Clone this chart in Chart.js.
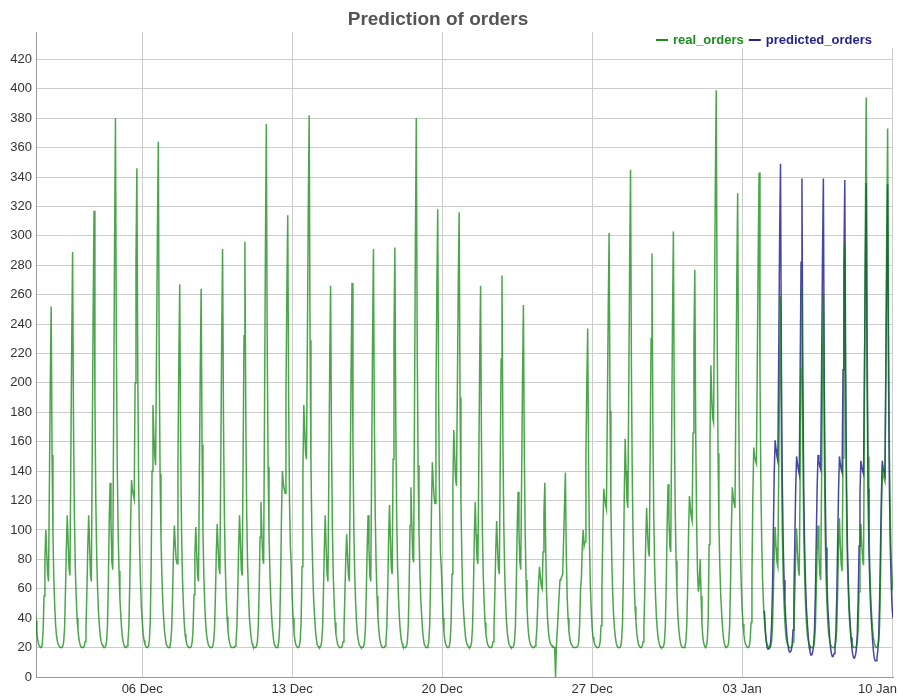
<!DOCTYPE html>
<html>
<head>
<meta charset="utf-8">
<title>Prediction of orders</title>
<script src="https://cdn.jsdelivr.net/npm/chart.js@4.4.0/dist/chart.umd.min.js"></script>
<style>
  html, body { margin: 0; padding: 0; background: #fff; }
</style>
</head>
<body>
<canvas id="ordersChart" width="900" height="697"></canvas>
<script>
// Hourly orders, one row per day (hour 0 = 01 Dec 00:00)
const realOrders = [
  [46, 38, 30, 25, 22, 21, 20, 20, 22, 32, 55, 80, 100, 84, 70, 65, 130, 200, 252, 151, 96, 66, 48, 35], // 01 Dec
  [28, 24, 22, 21, 20, 20, 20, 21, 24, 33, 58, 88, 110, 92, 74, 69, 146, 227, 289, 173, 110, 75, 55, 40],
  [32, 26, 23, 21, 20, 20, 20, 21, 24, 33, 58, 88, 110, 90, 70, 65, 153, 246, 317, 190, 120, 82, 60, 44],
  [35, 28, 24, 22, 21, 20, 20, 21, 24, 34, 62, 105, 132, 105, 78, 73, 180, 294, 380, 228, 144, 99, 72, 53],
  [42, 32, 26, 23, 21, 20, 20, 21, 24, 34, 62, 105, 134, 127, 124, 121, 200, 283, 346, 208, 131, 90, 66, 48],
  [38, 30, 25, 22, 21, 20, 20, 21, 25, 38, 75, 140, 185, 165, 150, 144, 221, 302, 364, 218, 138, 95, 69, 51], // 06 Dec
  [40, 31, 26, 22, 21, 20, 20, 21, 24, 33, 56, 85, 103, 90, 80, 77, 144, 214, 267, 160, 101, 69, 51, 37],
  [29, 25, 22, 21, 20, 20, 20, 21, 24, 33, 56, 84, 102, 84, 69, 65, 135, 208, 264, 158, 100, 69, 50, 37],
  [29, 25, 22, 21, 20, 20, 20, 21, 24, 33, 56, 85, 104, 88, 74, 70, 147, 229, 291, 175, 111, 76, 55, 41],
  [32, 26, 23, 21, 20, 20, 20, 20, 21, 24, 33, 58, 88, 110, 92, 73, 69, 148, 232, 296, 178, 112, 77, 56],
  [41, 33, 27, 23, 21, 20, 20, 20, 21, 24, 34, 60, 95, 119, 98, 81, 77, 182, 292, 376, 226, 143, 98, 71],
  [53, 41, 32, 26, 22, 21, 20, 20, 21, 24, 35, 65, 110, 140, 132, 128, 125, 191, 261, 314, 188, 119, 88, 75],
  [54, 40, 30, 25, 22, 21, 20, 20, 21, 25, 38, 75, 140, 185, 168, 152, 148, 230, 316, 382, 229, 145, 99, 73], // 13 Dec
  [53, 42, 32, 26, 22, 21, 20, 20, 21, 24, 33, 58, 88, 110, 88, 70, 65, 135, 210, 266, 160, 101, 69, 51],
  [37, 29, 25, 22, 21, 20, 20, 20, 21, 24, 33, 56, 80, 97, 82, 69, 65, 136, 211, 268, 161, 102, 70, 51],
  [38, 29, 25, 22, 21, 20, 20, 20, 21, 24, 33, 58, 88, 110, 88, 69, 65, 144, 228, 291, 175, 111, 76, 55],
  [41, 32, 26, 23, 21, 20, 20, 20, 21, 24, 34, 60, 94, 117, 94, 74, 70, 148, 230, 292, 175, 111, 76, 55],
  [41, 32, 26, 23, 21, 20, 20, 20, 21, 24, 35, 62, 103, 129, 104, 82, 78, 184, 295, 380, 228, 144, 99, 72],
  [53, 42, 32, 26, 22, 21, 20, 20, 21, 24, 35, 65, 115, 146, 132, 122, 118, 188, 262, 318, 191, 121, 85, 74],
  [58, 40, 30, 25, 22, 21, 20, 20, 21, 25, 37, 70, 130, 168, 150, 135, 130, 195, 265, 316, 190, 120, 82, 56], // 20 Dec
  [44, 35, 28, 24, 22, 21, 20, 20, 21, 24, 34, 60, 95, 119, 97, 81, 77, 143, 213, 266, 160, 101, 69, 51],
  [37, 29, 25, 22, 21, 20, 20, 20, 21, 24, 33, 57, 85, 106, 88, 74, 70, 141, 216, 273, 164, 104, 71, 52],
  [38, 30, 25, 22, 21, 20, 20, 20, 21, 24, 34, 62, 100, 126, 100, 78, 73, 136, 203, 253, 152, 96, 66, 48],
  [35, 28, 24, 22, 21, 20, 20, 20, 21, 24, 32, 48, 65, 75, 68, 62, 60, 85, 112, 132, 85, 56, 40, 31],
  [26, 23, 22, 21, 21, 20, 20, 0, 22, 32, 44, 56, 66, 67, 68, 70, 93, 116, 139, 84, 55, 40, 31, 26],
  [23, 22, 21, 20, 20, 20, 20, 20, 21, 24, 36, 60, 68, 90, 100, 89, 92, 150, 200, 237, 142, 90, 62, 45],
  [33, 27, 24, 22, 21, 20, 20, 20, 21, 24, 35, 62, 100, 128, 122, 117, 114, 180, 249, 302, 181, 115, 79, 57], // 27 Dec
  [42, 33, 27, 23, 21, 20, 20, 20, 21, 25, 37, 70, 125, 162, 140, 120, 115, 196, 281, 345, 207, 131, 90, 66],
  [48, 38, 30, 25, 22, 21, 20, 20, 21, 24, 34, 60, 92, 115, 98, 86, 82, 154, 230, 288, 173, 109, 75, 55],
  [40, 32, 26, 23, 21, 20, 20, 20, 21, 24, 35, 63, 104, 131, 108, 89, 85, 161, 242, 303, 182, 115, 79, 58],
  [42, 33, 27, 23, 21, 20, 20, 20, 21, 24, 35, 62, 98, 123, 115, 109, 106, 166, 229, 277, 166, 105, 72, 58],
  [64, 80, 55, 36, 27, 23, 21, 20, 21, 25, 40, 90, 160, 212, 190, 176, 173, 254, 336, 399, 239, 152, 104, 76], // 01 Jan
  [56, 44, 34, 27, 23, 21, 20, 20, 21, 24, 35, 63, 102, 129, 122, 118, 115, 190, 269, 329, 197, 125, 86, 63],
  [46, 36, 29, 24, 22, 21, 20, 20, 21, 25, 37, 70, 122, 156, 150, 147, 145, 214, 288, 343, 206, 130, 89, 65], // 03 Jan
  [48, 38, 30, 25, 22, 21, 20, 20, 21, 24, 34, 58, 85, 102, 88, 78, 75, 140, 206, 259, 155, 98, 67, 49],
  [36, 28, 24, 22, 21, 20, 20, 20, 21, 24, 33, 57, 84, 101, 85, 73, 69, 139, 210, 265, 159, 101, 69, 50],
  [37, 29, 25, 22, 21, 20, 20, 20, 21, 24, 33, 57, 85, 103, 85, 70, 66, 134, 206, 261, 157, 99, 68, 50],
  [37, 29, 25, 22, 21, 20, 20, 20, 21, 24, 33, 58, 88, 108, 90, 76, 72, 149, 231, 293, 176, 111, 76, 56],
  [41, 32, 26, 23, 21, 20, 20, 20, 21, 24, 33, 58, 86, 104, 90, 80, 76, 187, 305, 394, 236, 150, 102, 75],
  [55, 43, 33, 27, 23, 21, 20, 20, 21, 24, 35, 65, 110, 140, 137, 135, 133, 217, 306, 373, 230, 150, 105, 80],
  [66, 59] // 10 Jan
];

// prediction starts 04 Jan 00:00
const predictedStartHour = 816;
const predictedOrders = [
  [45, 44, 32, 24, 20, 19, 19, 20, 24, 35, 60, 100, 140, 161, 155, 150, 147, 220, 300, 349, 209, 133, 91, 66],
  [49, 38, 29, 23, 19, 17, 17, 18, 22, 32, 55, 92, 128, 150, 145, 141, 138, 208, 282, 339, 203, 129, 88, 64],
  [47, 37, 28, 21, 17, 15, 15, 17, 21, 31, 55, 92, 128, 151, 147, 143, 141, 210, 284, 339, 203, 129, 88, 64],
  [47, 37, 27, 20, 16, 14, 14, 16, 20, 30, 54, 91, 127, 150, 145, 141, 139, 209, 282, 338, 203, 128, 88, 64],
  [47, 37, 27, 19, 15, 13, 13, 15, 19, 29, 53, 89, 125, 147, 143, 140, 138, 207, 280, 336, 202, 128, 87, 64],
  [47, 36, 26, 18, 13, 11, 11, 13, 18, 28, 52, 88, 124, 147, 142, 139, 137, 206, 278, 335, 201, 127, 87, 63],
  [47, 40]
];

const tickHours = [120, 288, 456, 624, 792, 960];
const tickLabels = ["06 Dec", "13 Dec", "20 Dec", "27 Dec", "03 Jan", "10 Jan"];

const FONT = '"Liberation Sans", Arial, Helvetica, sans-serif';

const realPoints = realOrders.flat().map((y, i) => ({ x: i, y: y }));
const predictedPoints = predictedOrders.flat().map((y, i) => ({ x: predictedStartHour + i, y: y }));

// title, legend and date labels
const decorPlugin = {
  id: "decor",
  beforeDatasetsDraw(chart) {
    const ctx = chart.ctx;
    ctx.save();
    ctx.fillStyle = "#ffffff";
    ctx.fillRect(646, 31, 250, 17);
    ctx.restore();
  },
  afterDraw(chart) {
    const ctx = chart.ctx;
    const xs = chart.scales.x;
    ctx.save();

    ctx.font = "13px " + FONT;
    ctx.fillStyle = "#333333";
    ctx.textAlign = "center";
    ctx.textBaseline = "alphabetic";
    tickHours.forEach((h, i) => {
      const w = ctx.measureText(tickLabels[i]).width;
      let x = xs.getPixelForValue(h);
      x = Math.min(x, chart.width - 3 - w / 2);
      ctx.fillText(tickLabels[i], x, xs.top + 16);
    });

    ctx.font = "bold 19px " + FONT;
    ctx.fillStyle = "#555555";
    ctx.fillText("Prediction of orders", 438, 25);

    // legend, laid out from the right
    ctx.font = "bold 13px " + FONT;
    ctx.textAlign = "left";
    ctx.textBaseline = "middle";
    let right = 872;
    const items = chart.data.datasets.slice().reverse();
    items.forEach((ds) => {
      const w = ctx.measureText(ds.label).width;
      const tx = right - w;
      ctx.fillStyle = ds.legendColor;
      ctx.fillText(ds.label, tx, 40);
      ctx.strokeStyle = ds.legendColor;
      ctx.lineWidth = 2;
      ctx.beginPath();
      ctx.moveTo(tx - 17, 40);
      ctx.lineTo(tx - 5, 40);
      ctx.stroke();
      right = tx - 22;
    });
    ctx.restore();
  }
};

new Chart(document.getElementById("ordersChart"), {
  type: "line",
  data: {
    datasets: [
      {
        label: "real_orders",
        data: realPoints,
        borderColor: "rgba(0, 128, 0, 0.7)",
        legendColor: "#1f8c1f",
        borderWidth: 1.5,
        pointRadius: 0,
        tension: 0,
        fill: false
      },
      {
        label: "predicted_orders",
        data: predictedPoints,
        borderColor: "rgba(0, 0, 128, 0.72)",
        legendColor: "#24248c",
        borderWidth: 1.5,
        pointRadius: 0,
        tension: 0,
        fill: false
      }
    ]
  },
  options: {
    responsive: false,
    animation: false,
    layout: { padding: { top: 32, right: 7, left: 0, bottom: 0 } },
    plugins: {
      legend: { display: false },
      title: { display: false },
      tooltip: { enabled: false }
    },
    scales: {
      x: {
        type: "linear",
        min: 1,
        max: 961,
        afterBuildTicks: (scale) => {
          scale.ticks = tickHours.map((v) => ({ value: v }));
        },
        afterFit: (scale) => { scale.height = 20; },
        ticks: { display: false },
        grid: { color: "#cccccc", drawTicks: false },
        border: { color: "#999999" }
      },
      y: {
        min: 0,
        max: 438.6,
        afterBuildTicks: (scale) => {
          scale.ticks = scale.ticks.filter((t) => t.value % 20 === 0);
        },
        afterFit: (scale) => { scale.width = 36; },
        ticks: {
          stepSize: 20,
          padding: 4,
          color: "#333333",
          font: { family: FONT, size: 13 }
        },
        grid: { color: "#cccccc", drawTicks: false },
        border: { color: "#999999" }
      }
    }
  },
  plugins: [decorPlugin]
});
</script>
</body>
</html>
